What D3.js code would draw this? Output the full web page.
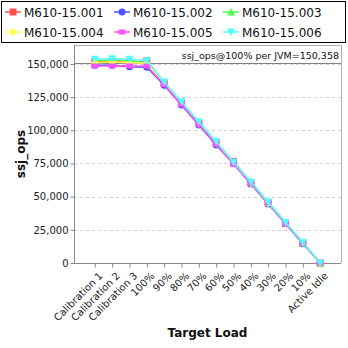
<!DOCTYPE html>
<html><head><meta charset="utf-8">
<script src="https://cdn.jsdelivr.net/npm/d3@7"></script>
<style>body{margin:0;background:#fff}svg{display:block}text{font-family:"DejaVu Sans",sans-serif}</style>
</head><body><svg id="c" width="348" height="348"></svg>
<script>
const categories = ["Calibration 1","Calibration 2","Calibration 3","100%","90%","80%","70%","60%","50%","40%","30%","20%","10%","Active Idle"];
const seriesNames = ["M610-15.001","M610-15.002","M610-15.003","M610-15.004","M610-15.005","M610-15.006"];
const s001 = [151500,152000,151000,152500,135500,120500,105500,90500,76500,60500,45500,30000,15000,0];
const s002 = [149000,149000,148000,147500,134000,119000,104000,89000,75000,59500,44500,29500,14500,0];
const s003 = [152500,153000,152500,151000,136000,121000,106000,91000,76000,61000,46000,30500,15500,0];
const s004 = [151000,151500,151000,150500,135500,120500,105000,90000,75500,60000,45000,30000,15000,0];
const s005 = [148500,148500,148500,148500,134500,119500,104500,89500,74500,60000,45500,29500,15000,0];
const s006 = [153500,154000,153500,152500,136500,121500,106500,91500,76000,61000,46000,30500,15500,0];
const yTicks = [0,25000,50000,75000,100000,125000,150000];
const refValue = 150358;
const refLabel = "ssj_ops@100% per JVM=150,358";
const colors = ["#ff5050","#5050ff","#50ff50","#ffff50","#ff50ff","#50ffff"];
const shapes = ["square","circle","triUp","diamond","rect","triDown"];
const allSeries = [s001,s002,s003,s004,s005,s006];

const svg = d3.select("#c");
const L=74, R=341, T=45, B=263;
const x = d3.scalePoint().domain(categories).range([L,R]).padding(1.2);
const y = d3.scaleLinear().domain([0,164300]).range([B,T]);

// grid
svg.append("g").selectAll("line").data(yTicks.slice(1)).join("line")
  .attr("x1",L).attr("x2",R).attr("y1",d=>Math.round(y(d))+0.5).attr("y2",d=>Math.round(y(d))+0.5)
  .attr("stroke","#d0d0d0").attr("stroke-dasharray","3,3");
// frame top/right
svg.append("path").attr("d",`M${L},${T+0.5}H${R+0.5}V${B}`).attr("fill","none").attr("stroke","#b0b0b0");

// y axis
const ya = svg.append("g").attr("transform",`translate(${L+0.5},0)`)
  .call(d3.axisLeft(y).tickValues(yTicks).tickFormat(d3.format(",")).tickSize(4).tickPadding(2));
ya.select(".domain").attr("stroke","#888").attr("d",`M0,${T}V${B+0.5}`);
ya.selectAll(".tick line").attr("stroke","#888");
ya.selectAll("text").attr("font-size",10).attr("font-family","DejaVu Sans, sans-serif").attr("fill","#222");

// x axis
const xa = svg.append("g").attr("transform",`translate(0,${B+0.5})`)
  .call(d3.axisBottom(x).tickSize(4).tickSizeOuter(0));
xa.select(".domain").attr("stroke","#888").attr("d",`M${L},0H${R}`);
xa.selectAll(".tick line").attr("stroke","#888");
xa.selectAll("text").attr("font-size",10).attr("font-family","DejaVu Sans, sans-serif").attr("fill","#222")
  .attr("text-anchor","end").attr("dy",0).attr("dx",0)
  .attr("transform","translate(3,8) rotate(-45)");

// reference line
svg.append("line").attr("x1",L).attr("x2",R).attr("y1",y(refValue)).attr("y2",y(refValue))
  .attr("stroke","#808080").attr("stroke-width",1.2);
svg.append("text").attr("x",R-2).attr("y",y(refValue)-4).attr("text-anchor","end")
  .attr("font-size",9.5).attr("fill","#111").text(refLabel);

function marker(g, shape, cx, cy, color){
  const s=3.5;
  let el;
  if(shape==="square") el=g.append("rect").attr("x",cx-s).attr("y",cy-s).attr("width",2*s).attr("height",2*s);
  else if(shape==="rect") el=g.append("rect").attr("x",cx-s).attr("y",cy-s+1).attr("width",2*s).attr("height",2*s-2);
  else if(shape==="circle") el=g.append("circle").attr("cx",cx).attr("cy",cy).attr("r",s);
  else if(shape==="triUp") el=g.append("path").attr("d",`M${cx},${cy-s-0.5}L${cx+s+0.5},${cy+s}L${cx-s-0.5},${cy+s}Z`);
  else if(shape==="triDown") el=g.append("path").attr("d",`M${cx},${cy+s+0.5}L${cx+s+0.5},${cy-s}L${cx-s-0.5},${cy-s}Z`);
  else if(shape==="diamond") el=g.append("path").attr("d",`M${cx},${cy-s-0.5}L${cx+s+0.5},${cy}L${cx},${cy+s+0.5}L${cx-s-0.5},${cy}Z`);
  el.attr("fill",color);
}

const line = d3.line().x((d,i)=>x(categories[i])).y(d=>y(d));
allSeries.forEach((vals,k)=>{
  const g = svg.append("g");
  g.append("path").datum(vals).attr("d",line).attr("fill","none").attr("stroke",colors[k]).attr("stroke-width",1.5);
  vals.forEach((v,i)=>marker(g,shapes[k],x(categories[i]),y(v),colors[k]));
});

// axis titles
svg.append("text").attr("transform",`translate(25,${(T+B)/2}) rotate(-90)`).attr("text-anchor","middle")
  .attr("font-size",12).attr("font-weight","bold").attr("fill","#111").text("ssj_ops");
svg.append("text").attr("x",(L+R)/2).attr("y",337).attr("text-anchor","middle")
  .attr("font-size",12).attr("font-weight","bold").attr("fill","#111").text("Target Load");

// legend
svg.append("rect").attr("x",1.5).attr("y",1.5).attr("width",344).attr("height",41).attr("fill","#fff").attr("stroke","#000");
seriesNames.forEach((n,k)=>{
  const col=k%3, row=Math.floor(k/3);
  const lx=5+col*109, ly=12+row*20;
  const g=svg.append("g");
  g.append("line").attr("x1",lx).attr("x2",lx+16).attr("y1",ly).attr("y2",ly).attr("stroke",colors[k]).attr("stroke-width",1.5);
  marker(g,shapes[k],lx+8,ly,colors[k]);
  g.append("text").attr("x",lx+19).attr("y",ly+4.5).attr("font-size",12).attr("fill","#111").text(n);
});
</script></body></html>
